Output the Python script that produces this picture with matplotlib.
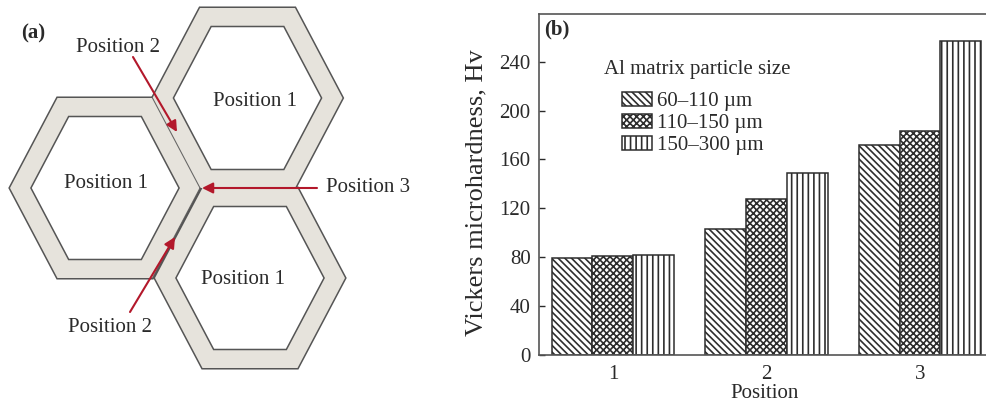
import numpy as np
import matplotlib
matplotlib.use('Agg')
import matplotlib.pyplot as plt
from matplotlib.patches import Polygon

plt.rcParams['font.family'] = ['Liberation Serif', 'DejaVu Serif']
plt.rcParams['hatch.linewidth'] = 1.2
plt.rcParams['hatch.color'] = '#2e2e2e'

# ---- data for panel (b) ----
positions = [1, 2, 3]
position_labels = ['1', '2', '3']
series_labels = ['60–110 µm', '110–150 µm', '150–300 µm']
hv_60_110 = [79, 103, 172]
hv_110_150 = [81, 128, 183]
hv_150_300 = [82, 149, 257]
hatches = ['\\' * 5, 'x' * 5, '|||']
yticks = [0, 40, 80, 120, 160, 200, 240]

# ---- geometry for schematic (a), pixel units ----
hex_cx = [105, 247.5, 250]
hex_cy = [188, 98, 278]
HEX_W, HEX_H, WALL = 95, 90, 18.5
cell_labels = ['Position 1', 'Position 1', 'Position 1']
cell_label_xy = [(106, 184), (255, 101), (243, 280)]
arrow_start = [(133, 57), (317, 188), (130, 312)]
arrow_end = [(177, 132), (202, 188), (175, 237)]

EDGE = '#555555'
WALL_C = '#e6e3dc'
RED = '#b3182b'
TXT = '#2a2a2a'


def hex_pts(cx, cy, w, h, a):
    # flat-topped hexagon, a = half length of top edge
    return np.array([[cx - w, cy], [cx - a, cy - h], [cx + a, cy - h],
                     [cx + w, cy], [cx + a, cy + h], [cx - a, cy + h]])


fig = plt.figure(figsize=(9.86, 4.03), dpi=100)

# ---------------- panel (a) ----------------
axa = fig.add_axes([0, 0, 480 / 986, 1])
axa.set_xlim(0, 480)
axa.set_ylim(403, 0)
axa.set_axis_off()

L = np.hypot(HEX_H, HEX_W / 2)
shift = WALL * L / HEX_H
w_in = HEX_W - shift
h_in = HEX_H - WALL
a_in = HEX_W - (HEX_W / 2) * h_in / HEX_H - shift

for cx, cy in zip(hex_cx, hex_cy):
    axa.add_patch(Polygon(hex_pts(cx, cy, HEX_W, HEX_H, HEX_W / 2),
                          fc='none', ec=EDGE, lw=2.2, zorder=1))
for cx, cy in zip(hex_cx, hex_cy):
    axa.add_patch(Polygon(hex_pts(cx, cy, HEX_W, HEX_H, HEX_W / 2),
                          fc=WALL_C, ec='none', zorder=2))

# faint shared walls between left cell and the two right cells
ca, cya = hex_cx[0], hex_cy[0]
axa.plot([ca + HEX_W / 2, ca + HEX_W], [cya - HEX_H, cya], color=EDGE, lw=0.8, alpha=0.8, zorder=3)
axa.plot([ca + HEX_W / 2, ca + HEX_W], [cya + HEX_H, cya], color=EDGE, lw=0.8, alpha=0.8, zorder=3)

for cx, cy in zip(hex_cx, hex_cy):
    axa.add_patch(Polygon(hex_pts(cx, cy, w_in, h_in, a_in),
                          fc='white', ec=EDGE, lw=1.1, zorder=4))

for lab, (x, y) in zip(cell_labels, cell_label_xy):
    axa.text(x, y, lab, ha='center', va='center', fontsize=15, color=TXT, zorder=5)

axa.text(118, 47, 'Position 2', ha='center', va='center', fontsize=15, color=TXT, zorder=5)
axa.text(110, 327, 'Position 2', ha='center', va='center', fontsize=15, color=TXT, zorder=5)
axa.text(326, 188, 'Position 3', ha='left', va='center', fontsize=15, color=TXT, zorder=5)
axa.text(33, 33, '(a)', ha='center', va='center', fontsize=15, color=TXT,
         fontweight='bold', zorder=5)

for s, e in zip(arrow_start, arrow_end):
    axa.annotate('', xy=e, xytext=s, zorder=6,
                 arrowprops=dict(arrowstyle='-|>', color=RED, lw=1.5,
                                 mutation_scale=16, shrinkA=0, shrinkB=0))

# ---------------- panel (b) ----------------
axb = fig.add_axes([539 / 986, 48 / 403, 451 / 986, 341 / 403])
width = 0.267
x = np.array(positions, dtype=float)
for i, (vals, lab, h) in enumerate(zip([hv_60_110, hv_110_150, hv_150_300],
                                       series_labels, hatches)):
    axb.bar(x + (i - 1) * width, vals, width, facecolor='white',
            edgecolor='#2e2e2e', linewidth=1.1, hatch=h, label=lab)

axb.set_xlim(0.518, 3.456)
axb.set_ylim(0, 279)
axb.set_xticks(positions)
axb.set_xticklabels(position_labels)
axb.set_yticks(yticks)
axb.tick_params(axis='y', direction='in', length=4, width=1, colors=TXT,
                labelsize=15, pad=6)
axb.tick_params(axis='x', length=0, labelsize=15, colors=TXT, pad=7)
for sp in axb.spines.values():
    sp.set_color('#555555')
    sp.set_linewidth(1.2)

axb.set_xlabel('Position', fontsize=15, color=TXT, labelpad=0)
axb.set_ylabel('Vickers microhardness, Hv', fontsize=19, color=TXT)
axb.yaxis.set_label_coords(-0.115, 0.475)
axb.text(0.04, 0.955, '(b)', transform=axb.transAxes, ha='center', va='center',
         fontsize=15, fontweight='bold', color=TXT)

axb.text(0.350, 0.836, 'Al matrix particle size', transform=axb.transAxes,
         ha='center', va='center', fontsize=15, color=TXT)
leg = axb.legend(loc='upper left', bbox_to_anchor=(0.184, 0.772), frameon=False,
                 fontsize=15, handlelength=1.45, handleheight=0.67,
                 handletextpad=0.25, labelspacing=0.12, borderpad=0,
                 borderaxespad=0)
for t in leg.get_texts():
    t.set_color(TXT)

fig.savefig('out.png', dpi=100)
